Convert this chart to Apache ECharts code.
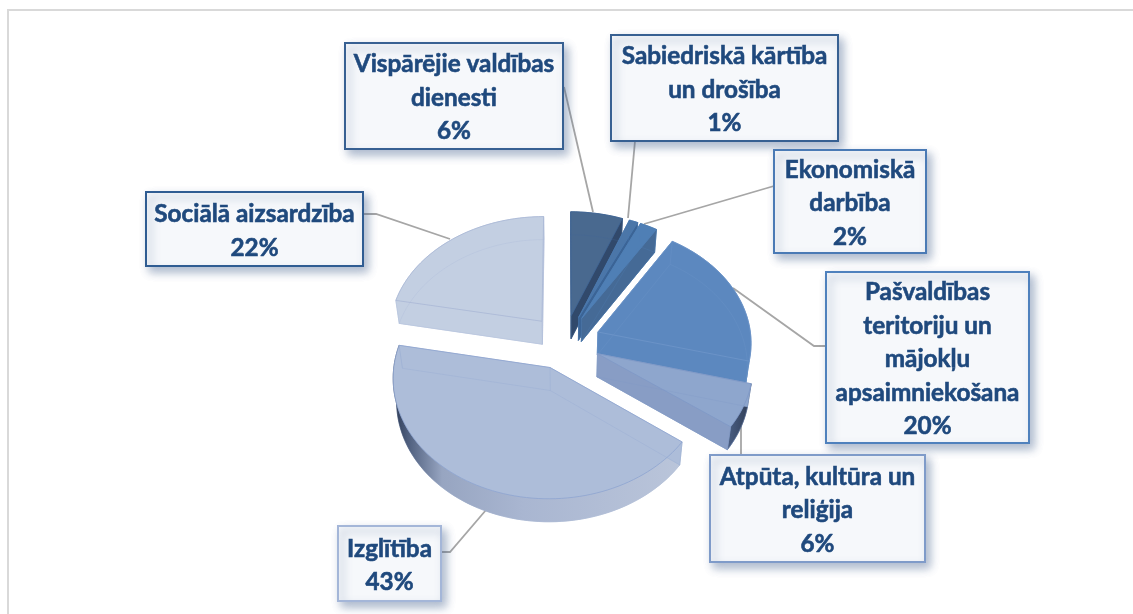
<!DOCTYPE html>
<html><head><meta charset="utf-8">
<style>html,body{margin:0;padding:0;background:#fff}#c{width:1133px;height:614px}</style>
<script src="https://cdn.jsdelivr.net/npm/echarts@6/dist/echarts.min.js"></script>
</head><body><div id="c"></div>
<script>
// ---- data ----
const categories = ["Vispārējie valdības\ndienesti","Sabiedriskā kārtība\nun drošība","Ekonomiskā\ndarbība","Pašvaldības\nteritoriju un\nmājokļu\napsaimniekošana","Atpūta, kultūra un\nreliģija","Izglītība","Sociālā aizsardzība"];
const shares = [6,1,2,20,6,43,22];
// ---- styling ----
const faceColors = ["#49698f","#4b76a8","#4f7fb5","#5c88bf","#8ea6cd","#adbdd9","#c3cfe2"];
const endWall   = ["#31496b","#3b6496","#456a96","#5c88bf","#889dc5","#a9b6d2","#c0cadf"];
const edgeColors = ["#3f6596","#4a78ae","#4f7fb5","#6e96c9","#7f98c6","#8ea5d0","#a9b8d6"];
const boxBorders = ["#376092","#376092","#4a7ab5","#4f81bd","#7f9bc9","#a4b6d8","#2f5c92"];
const boxes = [[345,43,218,106],[611,35,227,106],[774,150,152,103],[826,272,203,171],[710,455,215,107],[338,526,103,75],[146,192,217,74]];
const leaders = [[[564,87],[593,212]],[[635,141],[628,218]],[[774,186],[644,224]],[[826,346],[814,346],[733,288]],[[741,455],[741,425]],[[441,552],[450,552],[486,510]],[[363,214],[376,214],[450,239]]];
const drawOrder = [6,0,1,2,3,4,5];
const CX=564.6, CY=342, RX=153.5, RY=116.3, PERSP=0.0808, EXPL=0.235, DEPTH=23, BASE_SCALE=0.98;

const total = shares.reduce((a,b)=>a+b,0);
const starts = []; shares.reduce((acc,v,i)=>{starts[i]=acc;return acc+v;},0);
function proj(u,v){const s=1/(1-PERSP*v);return [CX+RX*u*s,CY+RY*v*s];}
function down(p){return [CX+(p[0]-CX)*BASE_SCALE,p[1]+DEPTH];}

function renderSlice(params, api){
  const v=api.value(0), i=api.value(1);
  const a0=starts[i]/total*2*Math.PI, a1=(starts[i]+v)/total*2*Math.PI, mid=(a0+a1)/2;
  const ox=EXPL*Math.sin(mid), oy=-EXPL*Math.cos(mid);
  const apex=proj(ox,oy);
  const n=Math.max(4,Math.ceil((a1-a0)/(Math.PI/90)));
  const arc=[];
  for(let k=0;k<=n;k++){const a=a0+(a1-a0)*k/n;arc.push(proj(ox+Math.sin(a),oy-Math.cos(a)));}
  const arcB=arc.map(down), apexB=down(apex);
  const top=[apex].concat(arc), bottom=[apexB].concat(arcB);
  const first=arc[0], last=arc[arc.length-1];
  const face=faceColors[i], edge=edgeColors[i];
  const poly=(pts,fill,stroke,lw)=>({type:'polygon',shape:{points:pts},style:{fill:fill,stroke:stroke||fill,lineWidth:lw||0.6}});
  const line=(pts,stroke,op)=>({type:'polyline',shape:{points:pts},style:{fill:null,stroke:stroke,lineWidth:1,opacity:op}});
  let wallFill=face;
  if(i===5){wallFill=new echarts.graphic.LinearGradient(0,0,1,0,[{offset:0,color:'#2b3953'},{offset:0.05,color:'#4d5d7c'},{offset:0.17,color:'#97a5c1'},{offset:0.45,color:'#a9b6d1'},{offset:1,color:'#bac5da'}]);}
  if(i===4){wallFill=new echarts.graphic.LinearGradient(0,0,1,0,[{offset:0,color:'#4a5f85'},{offset:1,color:'#2f3b52'}]);}
  const kids=[
    poly(bottom,face,face),
    poly(arc.concat(arcB.slice().reverse()),wallFill,wallFill),
    poly([apex,first,down(first),apexB],face,face),
    poly([apex,last,down(last),apexB],endWall[i],endWall[i]),
    poly(top,face,edge,0.8),
    // see-through faint outline of the lower face
    line(arcB,edge,i===5?0.0:0.28),
    line([arcB[0],apexB,arcB[arcB.length-1]],edge,0.28),
    line([first,down(first)],edge,0.3),
    line([last,down(last)],edge,0.4),
    line([apex,apexB],edge,0.3)
  ];
  return {type:'group',children:kids};
}

function renderCallout(params, api){
  const i=api.value(0), b=boxes[i], pct=api.value(1);
  return {type:'group',children:[
    {type:'polyline',shape:{points:leaders[i]},style:{fill:null,stroke:'#a6a6a6',lineWidth:1.8}},
    {type:'rect',shape:{x:b[0],y:b[1],width:b[2],height:b[3]},
      style:{fill:'#f6f8fb',stroke:boxBorders[i],lineWidth:2,shadowBlur:9,shadowOffsetX:4,shadowOffsetY:5,shadowColor:'rgba(70,100,145,0.45)'}},
    {type:'text',style:{x:b[0]+b[2]/2,y:b[1]+b[3]/2+2,text:categories[i]+'\n'+pct+'%',align:'center',verticalAlign:'middle',
      fill:'#1f497d',font:'bold 24.3px Lato',lineHeight:33.5,stroke:'#1f497d',lineWidth:0.6}}
  ]};
}

const chart=echarts.init(document.getElementById('c'),null,{renderer:'canvas'});
chart.setOption({
  animation:false,
  backgroundColor:'#ffffff',
  graphic:[
    {type:'polyline',silent:true,shape:{points:[[8,614],[8,10],[1133,10]]},style:{fill:null,stroke:'#d9d9d9',lineWidth:2}}
  ],
  series:[
    {type:'custom',coordinateSystem:'none',silent:true,z:2,renderItem:renderCallout,
      data:shares.map((v,i)=>[i,v])},
    {type:'custom',coordinateSystem:'none',silent:true,z:3,renderItem:renderSlice,
      data:drawOrder.map(i=>[shares[i],i])}
  ]
});
</script></body></html>
